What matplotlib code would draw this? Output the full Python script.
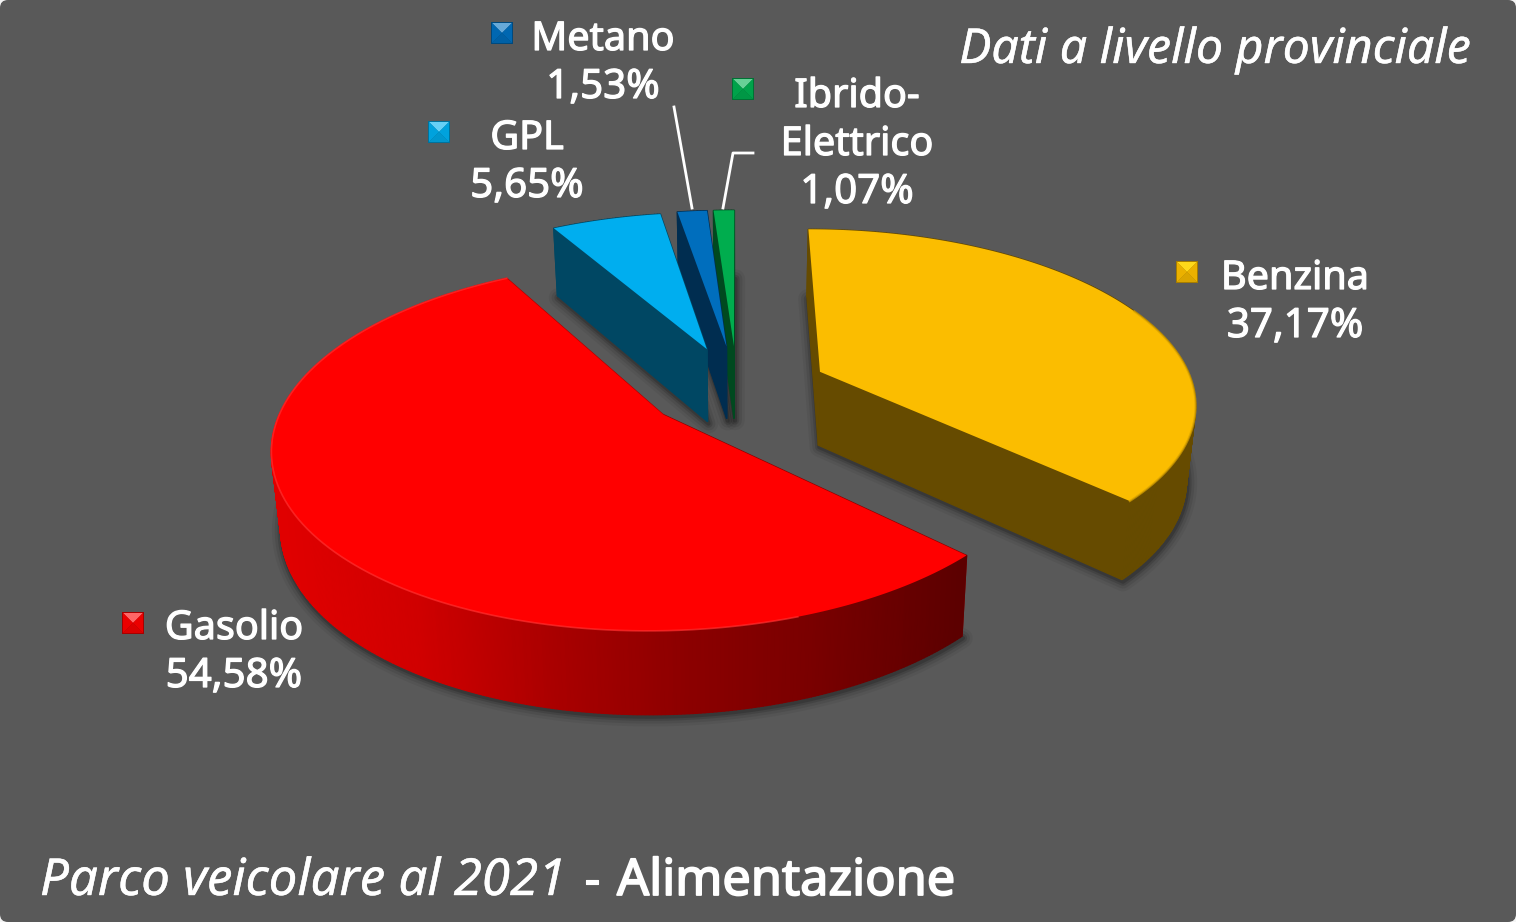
#!/usr/bin/env python3
"""Parco veicolare al 2021 - exploded 3D pie, drawn by hand on a pixel axes."""

import matplotlib
matplotlib.use("Agg")
import matplotlib.pyplot as plt
import matplotlib.patheffects as pe
import numpy as np
from matplotlib.colors import LinearSegmentedColormap, to_rgb
from matplotlib.patches import FancyBboxPatch

# ─── Data ───────────────────────────────────────────────────────────────────

names = ["Benzina", "Gasolio", "GPL", "Metano", "Ibrido-\nElettrico"]
shares = [37.17, 54.58, 5.65, 1.53, 1.07]

# ─── Style ──────────────────────────────────────────────────────────────────

top_colors = ["#FBBD00", "#FF0000", "#00AEEF", "#006EBD", "#00AD4E"]
wall_colors = ["#664B00", "#A00000", "#004763", "#002D50", "#00491F"]
key_colors = ["#FFC000", "#FF0000", "#00B0F0", "#0070C0", "#00B050"]
key_centers = [(1187, 272), (133, 623), (439, 132), (502, 33), (743, 89)]
label_centers = [(1295, 289), (234, 639), (527, 149), (603, 50), (857, 107)]
explode = [0.245, 0.245, 0.25, 0.255, 0.255]
draw_order = [4, 3, 2, 0, 1]

BACKGROUND = "#595959"
FONT = "Noto Sans"
LINE_STEP = 48

# projection of the pie plane: horizon pulls far points together
CX, CY = 737, 388
AX, BY = 374, 171
PERSP = 0.165
SHRINK = 0.98  # bottom face is slightly narrower than the top one

gasolio_wall = LinearSegmentedColormap.from_list(
    "gasolio", ["#E00000", "#D00000", "#AA0000", "#8C0000", "#780000", "#5C0000"]
)


def project(x, y):
    s = 1 / (1 + PERSP * y)
    return CX + AX * x * s, CY - BY * y * s, s


def drop(u, v, s):
    """Move a top-face point down to the bottom face."""
    return CX + (u - CX) * SHRINK, v + 68 + 42 * (s - 0.858)


def slice_outline(start, end, amount):
    """Top and bottom outlines of one exploded slice (angles in degrees, clockwise from far)."""
    mid = np.radians((start + end) / 2)
    x0, y0 = amount * np.sin(mid), amount * np.cos(mid)
    theta = np.radians(np.linspace(start, end, max(8, int(end - start) * 2)))
    x = np.r_[x0, x0 + np.sin(theta), x0]
    y = np.r_[y0, y0 + np.cos(theta), y0]
    u, v, s = project(x, y)
    lu, lv = drop(u, v, s)
    return u, v, lu, lv


def blend(color, other, amount):
    c, o = np.array(to_rgb(color)), np.array(to_rgb(other))
    return tuple(c + (o - c) * amount)


def draw_key(ax, center, color):
    """Small bevelled legend square."""
    cx, cy = center
    h = 11
    ax.fill([cx - h, cx + h, cx + h, cx - h], [cy - h, cy - h, cy + h, cy + h],
            color=blend(color, "black", 0.35), lw=0, zorder=6)
    h = 10
    light = "#FFFF40" if color == "#FFC000" else "white"
    ax.fill([cx - h, cx + h, cx], [cy - h, cy - h, cy], color=blend(color, light, 0.4), lw=0, zorder=7)
    ax.fill([cx - h, cx, cx - h], [cy - h, cy, cy + h], color=blend(color, "black", 0.08), lw=0, zorder=7)
    ax.fill([cx + h, cx, cx + h], [cy - h, cy, cy + h], color=blend(color, "black", 0.08), lw=0, zorder=7)
    ax.fill([cx - h, cx, cx + h], [cy + h, cy, cy + h], color=blend(color, "black", 0.14), lw=0, zorder=7)


def put_text(ax, x, y, text, size, style="normal", weight="normal", bold=0.5, ha="center"):
    t = ax.text(x, y, text, color="white", family=FONT, fontsize=size, style=style,
                weight=weight, ha=ha, va="baseline", zorder=8)
    t.set_path_effects([pe.withStroke(linewidth=bold, foreground="white")])
    return t


def main():
    fig = plt.figure(figsize=(15.16, 9.22), dpi=100, facecolor="#F4F4F4")
    ax = fig.add_axes([0, 0, 1, 1])
    ax.set_xlim(0, 1516)
    ax.set_ylim(922, 0)
    ax.axis("off")

    ax.add_patch(FancyBboxPatch((0, 0), 1516, 922, boxstyle="round,pad=0,rounding_size=8",
                                fc=BACKGROUND, ec="none", zorder=0))

    values = np.array(shares)
    edges = np.r_[0, np.cumsum(values)] / values.sum() * 360

    # soft shadow under every bottom face
    for i in draw_order:
        _, _, lu, lv = slice_outline(edges[i], edges[i + 1], explode[i])
        for lw, alpha in [(14, 0.05), (10, 0.08), (6, 0.12), (3, 0.16)]:
            ax.fill(lu + 1, lv + 2, fc="none", ec="black", lw=lw, alpha=alpha, zorder=1, joinstyle="round")

    for rank, i in enumerate(draw_order):
        u, v, lu, lv = slice_outline(edges[i], edges[i + 1], explode[i])
        z = 2 + rank * 0.1
        wall = wall_colors[i]
        for k in range(len(u) - 1):
            col = wall
            if i == 1:
                col = gasolio_wall(np.clip((u[k] - 280) / 680, 0, 1))
            ax.fill([u[k], u[k + 1], lu[k + 1], lu[k]], [v[k], v[k + 1], lv[k + 1], lv[k]],
                    color=col, lw=1.0, zorder=z)
        ax.fill(u, v, color=top_colors[i], lw=0, zorder=z + 0.05)
        if i == 0:
            n = len(u) // 2
            ax.plot(u[n:-1], v[n:-1], color="#D8A200", lw=1.5, alpha=0.7, zorder=z + 0.06)
        if i == 1:
            near = u[1:-1] < 800
            ax.plot(u[1:-1][near], v[1:-1][near], color="#FF3030", lw=1.2, alpha=0.7, zorder=z + 0.06)

    # leader lines
    ax.plot([674, 692], [107, 208], color="white", lw=2, zorder=5)
    ax.plot([753, 733, 723], [153, 153, 208], color="white", lw=2, zorder=5)

    # labels with their bevelled keys
    for i, name in enumerate(names):
        draw_key(ax, key_centers[i], key_colors[i])
        x, y = label_centers[i]
        parts = name.split("\n")
        for n, line in enumerate(parts):
            put_text(ax, x, y + n * LINE_STEP, line, 28.5, bold=0.9)
        pct = f"{shares[i]:.2f}%".replace(".", ",")
        put_text(ax, x, y + len(parts) * LINE_STEP, pct, 29, bold=0.9)

    put_text(ax, 1470, 63, "Dati a livello provinciale", 34.7, style="italic", bold=0.3, ha="right")
    put_text(ax, 40, 895, "Parco veicolare al 2021", 36.7, style="italic", bold=0.3, ha="left")
    put_text(ax, 592, 895, "-", 35, ha="center", bold=0.8)
    put_text(ax, 617, 895, "Alimentazione", 36.3, weight="semibold", bold=1.3, ha="left")

    fig.savefig("out.png", dpi=100, facecolor=fig.get_facecolor())
    plt.close(fig)


if __name__ == "__main__":
    main()
